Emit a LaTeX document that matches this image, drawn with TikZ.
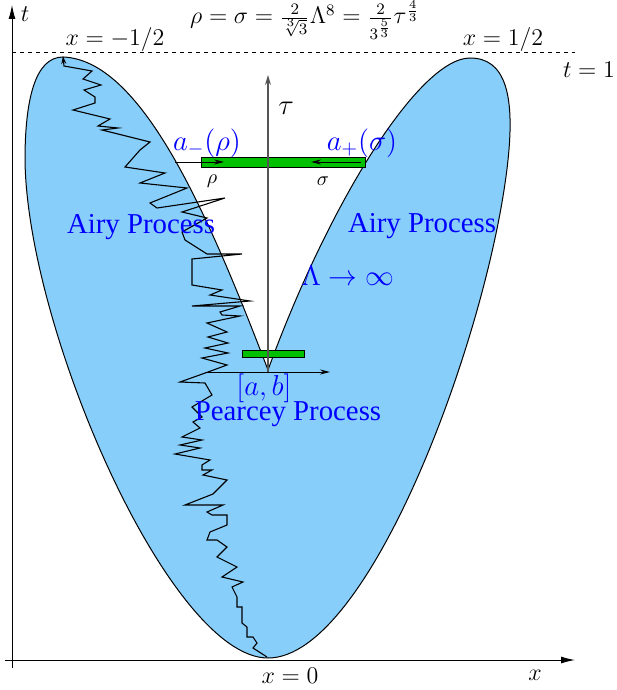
\documentclass[tikz,border=0pt]{standalone}
\usepackage{fontspec}
\newfontfamily\procfont{Liberation Serif}
\usetikzlibrary{arrows.meta,positioning}
\definecolor{sky}{HTML}{87CEFA}
\definecolor{bargreen}{HTML}{00C000}
\definecolor{procblue}{HTML}{0000FF}
\definecolor{axisgray}{HTML}{555555}
\tikzset{
  region/.style={fill=sky,draw=black,line width=0.5pt},
  band/.style={fill=bargreen,draw=black,line width=0.5pt},
  brownian/.style={draw=black,line width=0.55pt,line join=miter,-{Stealth[length=4pt,width=2.5pt]}},
  axis/.style={line width=0.5pt,-{Latex[length=7pt,width=3.5pt]}},
  subaxis/.style={draw=axisgray,line width=0.6pt,-{Stealth[length=5pt,width=3pt]}},
  pusharrow/.style={draw=black,line width=0.5pt,-{Stealth[length=5pt,width=2.5pt]}},
  proc/.style={font=\procfont\Large,text=procblue},
  lab/.style={font=\large},
  small/.style={font=\normalsize},
  bluelab/.style={font=\Large,text=procblue}
}
\begin{document}
\begin{tikzpicture}[x=0.5pt,y=-0.5pt]
\useasboundingbox (0,0) rectangle (616,690);
% limit shape
\coordinate (cusp) at (268,372);
\coordinate (lpeak) at (63,57);
\coordinate (rpeak) at (470,58);
\coordinate (bottom) at (268,658);
\path[region] (268,370) .. controls (205,205) and (140,60) .. (lpeak)
  .. controls (35,57) and (25,100) .. (25,160)
  .. controls (27,330) and (170,658) .. (bottom)
  .. controls (370,658) and (490,330) .. (508,160)
  .. controls (515,94) and (505,58) .. (rpeak)
  .. controls (420,58) and (330,200) .. (268,370) -- cycle;
% coordinates
\coordinate (xfrom) at (5,660);
\coordinate (xto) at (575,660);
\coordinate (tfrom) at (12,668);
\coordinate (tto) at (12,5);
\coordinate (dfrom) at (12,52);
\coordinate (dto) at (575,52);
\coordinate (tauto) at (268,75);
\coordinate (abfrom) at (205,372);
\coordinate (abto) at (330,372);
\coordinate (rhofrom) at (175,162);
\coordinate (rhoto) at (224,162);
\coordinate (sigfrom) at (361,162);
\coordinate (sigto) at (311,162);
% bars
\node[band,minimum width=82pt,minimum height=5pt,inner sep=0pt] (topbar) at (283,162) {};
\node[band,minimum width=31pt,minimum height=3.5pt,inner sep=0pt] (lowbar) at (273,354) {};
% axes
\draw[axis] (xfrom) -- (xto);
\draw[axis] (tfrom) -- (tto);
\draw[dashed,dash pattern=on 2.2pt off 1.8pt,line width=0.4pt] (dfrom) -- (dto);
\draw[subaxis] (cusp) -- (tauto);
\draw[pusharrow] (abfrom) -- (abto);
\draw[pusharrow] (rhofrom) -- (rhoto);
\draw[pusharrow] (sigfrom) -- (sigto);
% random walk
\draw[brownian] (267,657) -- (253,648) -- (257,643) -- (253,637) -- (247,637) -- (247,627) -- (242,623) -- (242,607) -- (237,607) -- (237,597) -- (232,587) -- (243,582) -- (222,577) -- (237,567) -- (217,557) -- (227,547) -- (217,540) -- (207,540) -- (210,532) -- (227,525) -- (227,515) -- (212,515) -- (207,512) -- (223,505) -- (185,505) -- (213,494) -- (227,480) -- (203,475) -- (212,470) -- (202,470) -- (202,465) -- (210,460) -- (175,454) -- (200,448) -- (180,445) -- (202,440) -- (182,437) -- (200,428) -- (193,422) -- (202,417) -- (192,407) -- (212,395) -- (205,383) -- (180,382) -- (208,372) -- (227,365) -- (202,358) -- (228,353) -- (205,348) -- (228,343) -- (208,337) -- (227,332) -- (207,323) -- (240,316) -- (222,315) -- (220,312) -- (240,306) -- (192,306) -- (250,301) -- (210,295) -- (222,290) -- (192,285) -- (192,259) -- (242,254) -- (207,254) -- (185,240) -- (182,232) -- (207,218) -- (182,212) -- (225,198) -- (157,208) -- (150,203) -- (187,188) -- (140,183) -- (165,173) -- (125,167) -- (140,150) -- (150,142) -- (102,130) -- (118,128) -- (98,126) -- (110,119) -- (73,110) -- (95,103) -- (95,97) -- (84,90) -- (101,85) -- (83,79) -- (92,71) -- (64,66) -- (63,56);
% labels
\node[lab] (formula) at (305,20) {$\rho=\sigma=\frac{2}{\sqrt[3]{3}}\Lambda^8=\frac{2}{3^{\frac{5}{3}}}\tau^{\frac{4}{3}}$};
\node[lab] (tlab) at (25,14) {$t$};
\node[lab] (xleft) at (115,40) {$x=-1/2$};
\node[lab] (xright) at (503,40) {$x=1/2$};
\node[lab,anchor=west] (tone) at (556,70) {$t=1$};
\node[lab] (xzero) at (290,676) {$x=0$};
\node[lab] (xlab) at (535,675) {$x$};
\node[font=\Large] (taulab) at (286,108) {$\tau$};
\node[small] (rholab) at (212,181) {$\rho$};
\node[small] (siglab) at (323,181) {$\sigma$};
\node[bluelab] (aminus) at (207,143) {$a_-(\rho)$};
\node[bluelab] (aplus) at (362,143) {$a_+(\sigma)$};
\node[bluelab] (limit) at (348,276) {$\Lambda\to\infty$};
\node[bluelab] (ab) at (264,388) {$[a,b]$};
\node[proc] (airyleft) at (141,227) {Airy Process};
\node[proc] (airyright) at (422,226) {Airy Process};
\node[proc] (pearcey) at (288,414) {Pearcey Process};
\end{tikzpicture}
\end{document}
